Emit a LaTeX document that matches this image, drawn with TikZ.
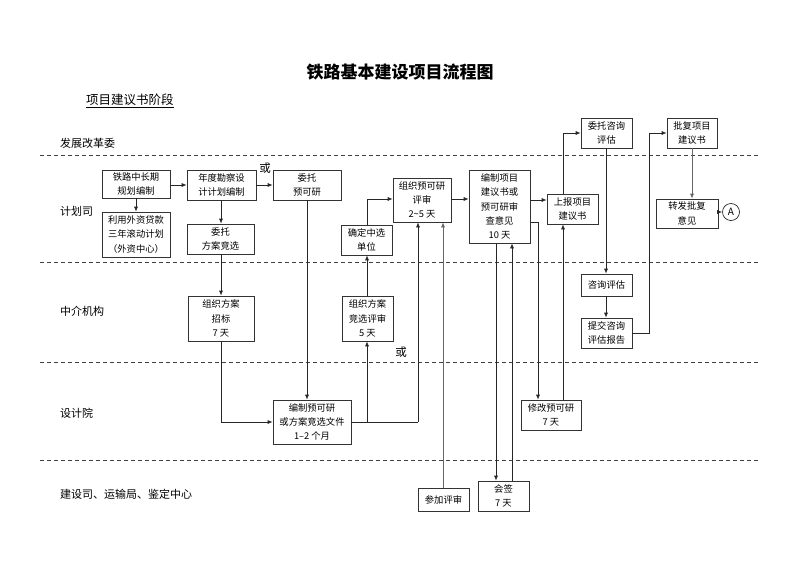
\documentclass[tikz,border=0pt]{standalone}
\usepackage{fontspec}
\setmainfont{Noto Sans CJK SC}
\usetikzlibrary{arrows.meta}
\newcommand\mybox[6]{\node[box, minimum width=#4pt-#2pt, minimum height=#5pt-#3pt] (#1) at ({(#2+#4)/2},{(#3+#5)/2}) {#6};}
\begin{document}
\begin{tikzpicture}[x=1pt,y=-1pt,
  box/.style={draw=black!80, line width=0.7pt, fill=white, inner sep=0pt, align=center, font=\fontsize{9.3}{14.4}\selectfont},
  arr/.style={draw=black!85, line width=0.7pt, -{Latex[length=5pt,width=4pt]}},
  garr/.style={arr, draw=black!60},
  ln/.style={draw=black!85, line width=0.7pt},
  lane/.style={draw=black!75, line width=0.7pt, dash pattern=on 4pt off 3pt},
  lab/.style={anchor=west, inner sep=0pt, font=\fontsize{11}{13}\selectfont},
  orr/.style={inner sep=0pt, font=\fontsize{11.5}{13}\selectfont}]
\useasboundingbox (0,0) rectangle (800,566);
\fill[white] (0,0) rectangle (800,566);

% title
\node[inner sep=0pt, font=\fontsize{17}{20}\selectfont\bfseries] (T) at (400,72) {铁路基本建设项目流程图};
\node[anchor=west, inner sep=0pt, font=\fontsize{12.5}{14}\selectfont] (S) at (86,101) {\underline{项目建议书阶段}};

% lanes
\draw[lane] (40,155) -- (760,155);
\draw[lane] (40,262) -- (760,262);
\draw[lane] (40,362) -- (760,362);
\draw[lane] (40,460) -- (760,460);
\node[lab] (L1) at (60,143) {发展改革委};
\node[lab] (L2) at (60,211) {计划司};
\node[lab] (L3) at (60,311) {中介机构};
\node[lab] (L4) at (60,413) {设计院};
\node[lab] (L5) at (60,494) {建设司、运输局、鉴定中心};

% boxes
\mybox{a1}{102}{170}{170}{198}{铁路中长期\\规划编制}
\mybox{a2}{102}{212}{170}{257}{利用外资贷款\\三年滚动计划\\（外资中心）}
\mybox{b1}{187}{170}{256}{200}{年度勘察设\\计计划编制}
\mybox{b2}{187}{224}{254}{254}{委托\\方案竞选}
\mybox{c1}{273}{170}{341}{200}{委托\\预可研}
\mybox{d1}{341}{225}{392}{255}{确定中选\\单位}
\mybox{d2}{393}{178}{451}{222}{组织预可研\\评审\\2\textasciitilde5 天}
\mybox{e1}{469}{170}{530}{243}{编制项目\\建议书或\\预可研审\\查意见\\10 天}
\mybox{f1}{547}{194}{598}{224}{上报项目\\建议书}
\mybox{g1}{581}{118}{632}{148}{委托咨询\\评估}
\mybox{h1}{667}{118}{717}{148}{批复项目\\建议书}
\mybox{h2}{656}{199}{718}{228}{转发批复\\意见}
\node[circle, draw=black!85, line width=0.7pt, minimum size=17pt, inner sep=0pt, font=\fontsize{10}{12}\selectfont] (A) at (731,212) {A};
\mybox{m1}{188}{296}{254}{341}{组织方案\\招标\\7 天}
\mybox{m2}{342}{296}{393}{341}{组织方案\\竞选评审\\5 天}
\mybox{k1}{581}{274}{632}{296}{咨询评估}
\mybox{k2}{581}{318}{632}{348}{提交咨询\\评估报告}
\mybox{s1}{273}{400}{351}{444}{编制预可研\\或方案竞选文件\\1–2 个月}
\mybox{s2}{521}{400}{581}{430}{修改预可研\\7 天}
\mybox{j1}{418}{488}{469}{511}{参加评审}
\mybox{j2}{478}{481}{529}{511}{会签\\7 天}

\node[orr] (or1) at (265,168) {或};
\node[orr] (or2) at (401,352) {或};

% connectors
\draw[arr] (a1.east |- 0,185) -- (b1.west |- 0,185);
\draw[arr] (a1.south) -- (a2.north);
\draw[arr] (b1.east |- 0,185) -- (c1.west |- 0,185);
\draw[arr] (b1.south -| 221,0) -- (b2.north -| 221,0);
\draw[arr] (b2.south -| 221,0) -- (m1.north -| 221,0);
\draw[arr] (m1.south -| 221,0) -- (221,422) -- (s1.west |- 0,422);
\draw[arr] (c1.south) -- (c1.south |- s1.north);
\draw[ln] (s1.east |- 0,422) -- (418,422);
\draw[arr] (418,422) -- (d2.south -| 418,0);
\draw[arr] (367,422) -- (m2.south -| 367,0);
\draw[arr] (m2.north -| 367,0) -- (d1.south -| 367,0);
\draw[arr] (d1.north -| 367,0) -- (367,199) -- (d2.west |- 0,199);
\draw[arr] (d2.east |- 0,199) -- (e1.west |- 0,199);
\draw[arr] (e1.east |- 0,200) -- (f1.west |- 0,200);
\draw[garr] (j1.north -| 443,0) -- (d2.south -| 443,0);
\draw[arr] (e1.south -| 496,0) -- (j2.north -| 496,0);
\draw[arr] (j2.north -| 512,0) -- (e1.south -| 512,0);
\draw[arr] (e1.east |- 0,222) -- (538,222) -- (s2.north -| 538,0);
\draw[arr] (s2.north -| 563,0) -- (f1.south -| 563,0);
\draw[arr] (f1.north -| 563,0) -- (563,133) -- (g1.west |- 0,133);
\draw[arr] (g1.south -| 606,0) -- (k1.north -| 606,0);
\draw[arr] (k1.south -| 606,0) -- (k2.north -| 606,0);
\draw[arr] (k2.east |- 0,333) -- (649,333) -- (649,133) -- (h1.west |- 0,133);
\draw[garr] (h1.south -| 692,0) -- (h2.north -| 692,0);
\draw[arr] (h2.east |- A) -- (A.west);
\end{tikzpicture}
\end{document}
